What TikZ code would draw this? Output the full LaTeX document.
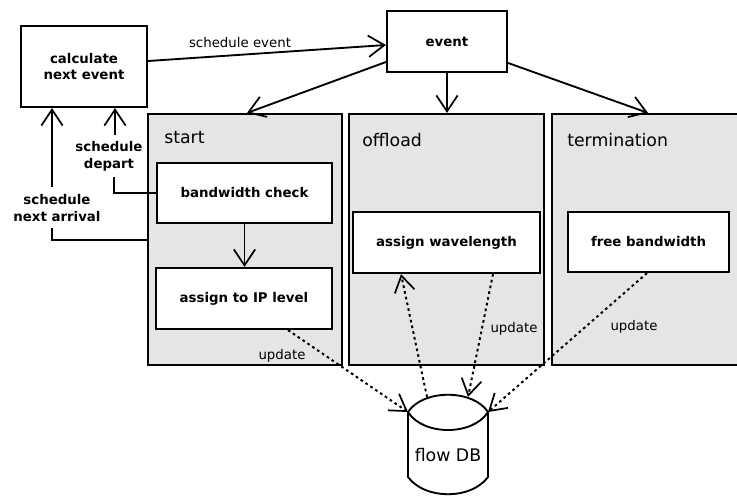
\documentclass[tikz,border=0pt]{standalone}
\usepackage{fontspec}
\setmainfont{DejaVu Sans}
\usetikzlibrary{arrows.meta}
\begin{document}
\begin{tikzpicture}[x=0.75pt,y=-0.75pt,
  box/.style={draw,line width=1.6pt,fill=white,inner sep=0pt,align=center,font=\bfseries\fontsize{10}{12.5}\selectfont},
  panel/.style={draw,line width=1.6pt,fill=gray!20,inner sep=0pt},
  title/.style={font=\fontsize{13}{15}\selectfont,inner sep=0pt,anchor=west},
  lbl/.style={font=\fontsize{10}{12}\selectfont,inner sep=1pt},
  blbl/.style={font=\bfseries\fontsize{10}{12.5}\selectfont,inner sep=0pt,align=center},
  conn/.style={line width=1.4pt,-{Straight Barb[length=12pt,width=16pt,line width=1.3pt]}},
  plain/.style={line width=1.4pt},
  dotc/.style={line width=1.5pt,dash pattern=on 2pt off 2.4pt,-{Straight Barb[length=12pt,width=15pt,line width=1.3pt]}}
]
\useasboundingbox (0,0) rectangle (737,499);
% panels
\node[panel,minimum width=194*0.75pt,minimum height=251*0.75pt] (pstart) at (245,239.5) {};
\node[panel,minimum width=195*0.75pt,minimum height=251*0.75pt] (poff) at (446.5,239.5) {};
\node[panel,minimum width=200*0.75pt,minimum height=251*0.75pt] (pterm) at (652,239.5) {};
\node[title] (tstart) at (164,138) {start};
\node[title] (toff) at (362,140) {offload};
\node[title] (tterm) at (567,140) {termination};
% boxes
\node[box,minimum width=126*0.75pt,minimum height=81*0.75pt] (calc) at (84,66.5) {calculate\\next event};
\node[box,minimum width=120*0.75pt,minimum height=61*0.75pt] (event) at (447,41.5) {event};
\node[box,minimum width=175*0.75pt,minimum height=60*0.75pt] (bw) at (244.5,193) {bandwidth check};
\node[box,minimum width=176*0.75pt,minimum height=61*0.75pt] (ip) at (244,298.5) {assign to IP level};
\node[box,minimum width=187*0.75pt,minimum height=61*0.75pt] (wl) at (446.5,242.5) {assign wavelength};
\node[box,minimum width=161*0.75pt,minimum height=60*0.75pt] (fb) at (648.5,242) {free bandwidth};
% database
\coordinate (dbl) at (408,412);
\coordinate (dbr) at (488,412);
\coordinate (dbtl) at (427,397);
\coordinate (dbtr) at (468,397);
\draw[line width=1.4pt,fill=white] (dbl) .. controls (423,389) and (473,389) .. (dbr)
  -- (488,477) .. controls (471,500) and (425,500) .. (408,477) -- cycle;
\draw[line width=1.4pt] (dbl) .. controls (423,436) and (473,436) .. (dbr);
\node[font=\fontsize{13}{15}\selectfont,inner sep=0pt] (db) at (448,455) {flow DB};
% solid connectors
\draw[conn] (calc.east |- 0,61) -- (event.west |- 0,45);
\node[lbl] (lse) at (240,43) {schedule event};
\draw[conn] (event.west |- 0,62) -- (pstart.north -| 247,0);
\draw[conn] (event.south) -- (poff.north -| event.south);
\draw[conn] (event.east |- 0,63) -- (pterm.north -| 648,0);
\draw[conn] (bw.south) -- (ip.north -| bw.south);
% schedule depart
\node[blbl] (sdep) at (109,156) {schedule\\depart};
\draw[plain] (bw.west) -| (114,177);
\draw[conn] (115,135) -- (calc.south -| 115,0);
% schedule next arrival
\node[blbl] (sarr) at (57,208) {schedule\\next arrival};
\draw[plain] (pstart.west |- 0,240) -| (52,228);
\draw[conn] (52,187) -- (calc.south -| 52,0);
% dotted connectors
\draw[dotc] (ip.south -| 288,0) -- (dbl);
\node[lbl] (u1) at (282,356) {update};
\draw[dotc] (dbtl) -- (wl.south -| 401,0);
\draw[dotc] (wl.south -| 493,0) -- (dbtr);
\node[lbl] (u2) at (514,329) {update};
\draw[dotc] (fb.south -| 647,0) -- (dbr);
\node[lbl] (u3) at (634,327) {update};
\end{tikzpicture}
\end{document}
